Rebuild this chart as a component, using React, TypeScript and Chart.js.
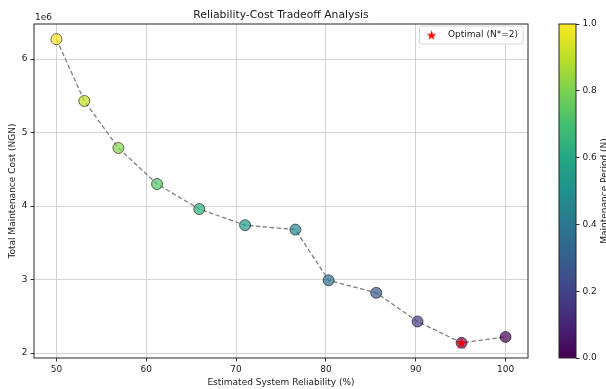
import React, { useEffect, useRef } from "react";
import { Chart, registerables } from "chart.js";

Chart.register(...registerables);

// ---------------- data ----------------
const reliability = [50.0, 53.1, 56.9, 61.2, 65.9, 71.0, 76.6, 80.3, 85.6, 90.2, 95.1, 100.0];
const totalCost = [6270000, 5430000, 4790000, 4300000, 3960000, 3740000, 3680000, 2990000, 2820000, 2430000, 2140000, 2220000];
const periodN = [12, 11, 10, 9, 8, 7, 6, 5, 4, 3, 2, 1];
const optimalN = 2;
const xTicks = [50, 60, 70, 80, 90, 100];
const yTicks = [2, 3, 4, 5, 6]; // ×1e6
const colorbarTicks = [0, 0.2, 0.4, 0.6, 0.8, 1.0];

const TITLE = "Reliability-Cost Tradeoff Analysis";
const X_LABEL = "Estimated System Reliability (%)";
const Y_LABEL = "Total Maintenance Cost (NGN)";
const CB_LABEL = "Maintenance Period (N)";
const LEGEND_LABEL = `Optimal (N*=${optimalN})`;

// ---------------- style helpers ----------------
const FAMILY = '"DejaVu Sans", "Liberation Sans", sans-serif';
const TEXT = "#1a1a1a";
const FS = 9;
const VIRIDIS = ["#440154", "#482475", "#414487", "#355f8d", "#2a788e", "#21918c", "#22a884", "#44bf70", "#7ad151", "#bddf26", "#fde725"];

function hexToRgb(h: string) {
  const n = parseInt(h.slice(1), 16);
  return [(n >> 16) & 255, (n >> 8) & 255, n & 255];
}
function viridis(t: number, alpha: number) {
  const tt = Math.max(0, Math.min(1, t));
  const p = tt * 10;
  const i = Math.min(9, Math.floor(p));
  const f = p - i;
  const a = hexToRgb(VIRIDIS[i]);
  const b = hexToRgb(VIRIDIS[i + 1]);
  const c = a.map((v, k) => Math.round(v + (b[k] - v) * f));
  return `rgba(${c[0]},${c[1]},${c[2]},${alpha})`;
}

function makeStar(R: number, color: string) {
  const size = Math.ceil(R * 2 + 2);
  const c = document.createElement("canvas");
  c.width = size;
  c.height = size;
  const ctx = c.getContext("2d")!;
  const cx = size / 2;
  const cy = size / 2 + R * 0.1;
  const r = R * 0.382;
  ctx.beginPath();
  for (let k = 0; k < 10; k++) {
    const ang = -Math.PI / 2 + (k * Math.PI) / 5;
    const rad = k % 2 === 0 ? R : r;
    const x = cx + rad * Math.cos(ang);
    const y = cy + rad * Math.sin(ang);
    if (k === 0) ctx.moveTo(x, y);
    else ctx.lineTo(x, y);
  }
  ctx.closePath();
  ctx.fillStyle = color;
  ctx.fill();
  return c;
}

export default function App() {
  const mainRef = useRef<HTMLCanvasElement>(null);
  const cbRef = useRef<HTMLCanvasElement>(null);

  useEffect(() => {
    const pts = reliability.map((x, i) => ({ x, y: totalCost[i] }));
    const optIdx = periodN.indexOf(optimalN);
    const nMin = Math.min(...periodN);
    const nMax = Math.max(...periodN);
    const colors = periodN.map((n) => viridis((n - nMin) / (nMax - nMin), 0.7));

    const xR = Math.max(...reliability) - Math.min(...reliability);
    const xMin = Math.min(...reliability) - 0.05 * xR;
    const xMax = Math.max(...reliability) + 0.05 * xR;
    const yR = Math.max(...totalCost) - Math.min(...totalCost);
    const yMin = Math.min(...totalCost) - 0.05 * yR;
    const yMax = Math.max(...totalCost) + 0.05 * yR;

    const starBig = makeStar(6.2, "#ff0000");
    const starLegend = makeStar(5.2, "#ff0000");

    const decor = {
      id: "decor",
      beforeDatasetsDraw(chart: any) {
        const { ctx, chartArea: a } = chart;
        ctx.save();
        ctx.strokeStyle = "#262626";
        ctx.lineWidth = 1;
        ctx.strokeRect(a.left, a.top, a.right - a.left, a.bottom - a.top);
        ctx.restore();
      },
      afterDraw(chart: any) {
        const { ctx, chartArea: a } = chart;
        ctx.save();
        // title
        ctx.fillStyle = TEXT;
        ctx.font = `10.8px ${FAMILY}`;
        ctx.textAlign = "center";
        ctx.textBaseline = "alphabetic";
        ctx.fillText(TITLE, (a.left + a.right) / 2, a.top - 5.6);
        // offset text
        ctx.font = `${FS}px ${FAMILY}`;
        ctx.textAlign = "left";
        ctx.fillText("1e6", a.left + 1, a.top - 4);
        // legend
        const tw = ctx.measureText(LEGEND_LABEL).width;
        const boxR = a.right - 5;
        const boxT = a.top + 2;
        const boxH = 18;
        const textL = boxR - 5 - tw;
        const starX = textL - 16.5;
        const boxL = starX - 12;
        ctx.beginPath();
        const rr = 2;
        ctx.moveTo(boxL + rr, boxT);
        ctx.lineTo(boxR - rr, boxT);
        ctx.quadraticCurveTo(boxR, boxT, boxR, boxT + rr);
        ctx.lineTo(boxR, boxT + boxH - rr);
        ctx.quadraticCurveTo(boxR, boxT + boxH, boxR - rr, boxT + boxH);
        ctx.lineTo(boxL + rr, boxT + boxH);
        ctx.quadraticCurveTo(boxL, boxT + boxH, boxL, boxT + boxH - rr);
        ctx.lineTo(boxL, boxT + rr);
        ctx.quadraticCurveTo(boxL, boxT, boxL + rr, boxT);
        ctx.closePath();
        ctx.fillStyle = "rgba(255,255,255,0.8)";
        ctx.fill();
        ctx.strokeStyle = "#d6d6d6";
        ctx.lineWidth = 1;
        ctx.stroke();
        const cy = boxT + boxH / 2;
        ctx.drawImage(starLegend, starX - starLegend.width / 2, cy - starLegend.height / 2);
        ctx.fillStyle = TEXT;
        ctx.textBaseline = "middle";
        ctx.fillText(LEGEND_LABEL, textL, cy);
        ctx.restore();
      },
    };

    const main = new Chart(mainRef.current!, {
      type: "scatter",
      data: {
        datasets: [
          {
            label: LEGEND_LABEL,
            data: [pts[optIdx]],
            pointStyle: starBig as any,
            pointRadius: 6,
            order: 0,
          },
          {
            label: "points",
            data: pts,
            backgroundColor: colors,
            borderColor: "rgba(0,0,0,0.7)",
            borderWidth: 0.8,
            pointRadius: 5.5,
            order: 1,
          },
          {
            label: "line",
            data: pts,
            showLine: true,
            borderColor: "rgba(120,120,120,0.95)",
            borderWidth: 1.3,
            borderDash: [4.5, 2.5],
            pointRadius: 0,
            order: 2,
          } as any,
        ],
      },
      options: {
        responsive: false,
        animation: false,
        devicePixelRatio: 1,
        layout: { padding: { left: 0, top: 24, right: 78, bottom: 0 } },
        plugins: { legend: { display: false }, tooltip: { enabled: false }, title: { display: false } },
        scales: {
          x: {
            type: "linear",
            min: xMin,
            max: xMax,
            afterFit: (s: any) => {
              s.height = 31;
            },
            afterBuildTicks: (s: any) => {
              s.ticks = xTicks.map((v) => ({ value: v }));
            },
            ticks: {
              color: TEXT,
              font: { size: FS, family: FAMILY },
              padding: 3,
              maxRotation: 0,
              autoSkip: false,
              callback: (v: any) => String(v),
            },
            grid: { color: "#d4d4d4", lineWidth: 1, tickLength: 3.5, tickColor: "#333", drawTicks: true },
            border: { display: false },
            title: {
              display: true,
              text: X_LABEL,
              color: TEXT,
              font: { size: FS, family: FAMILY },
              padding: { top: 0, bottom: 1 },
            },
          },
          y: {
            type: "linear",
            min: yMin,
            max: yMax,
            afterFit: (s: any) => {
              s.width = 34;
            },
            afterBuildTicks: (s: any) => {
              s.ticks = yTicks.map((v) => ({ value: v * 1e6 }));
            },
            ticks: {
              color: TEXT,
              font: { size: FS, family: FAMILY },
              padding: 3,
              autoSkip: false,
              callback: (v: any) => String(Math.round(v / 1e6)),
            },
            grid: { color: "#d4d4d4", lineWidth: 1, tickLength: 3.5, tickColor: "#333", drawTicks: true },
            border: { display: false },
            title: {
              display: true,
              text: Y_LABEL,
              color: TEXT,
              font: { size: FS, family: FAMILY },
              padding: { top: 7, bottom: 0 },
            },
          },
        },
      },
      plugins: [decor],
    } as any);

    const cbPlugin = {
      id: "colorbar",
      beforeDraw(chart: any) {
        const { ctx, chartArea: a } = chart;
        ctx.save();
        const g = ctx.createLinearGradient(0, a.bottom, 0, a.top);
        VIRIDIS.forEach((c, i) => g.addColorStop(i / (VIRIDIS.length - 1), c));
        ctx.fillStyle = g;
        ctx.fillRect(a.left, a.top, a.right - a.left, a.bottom - a.top);
        ctx.restore();
      },
      afterDraw(chart: any) {
        const { ctx, chartArea: a } = chart;
        ctx.save();
        ctx.strokeStyle = "#262626";
        ctx.lineWidth = 1;
        ctx.strokeRect(a.left, a.top, a.right - a.left, a.bottom - a.top);
        ctx.translate(604.5, (a.top + a.bottom) / 2);
        ctx.rotate(-Math.PI / 2);
        ctx.fillStyle = TEXT;
        ctx.font = `${FS}px ${FAMILY}`;
        ctx.textAlign = "center";
        ctx.textBaseline = "middle";
        ctx.fillText(CB_LABEL, 0, 0);
        ctx.restore();
      },
    };

    const cb = new Chart(cbRef.current!, {
      type: "scatter",
      data: { datasets: [] },
      options: {
        responsive: false,
        animation: false,
        devicePixelRatio: 1,
        layout: { padding: { left: 559, top: 24, right: 0, bottom: 31 } },
        plugins: { legend: { display: false }, tooltip: { enabled: false } },
        scales: {
          x: { type: "linear", min: 0, max: 1, display: false },
          y: {
            type: "linear",
            position: "right",
            min: 0,
            max: 1,
            afterFit: (s: any) => {
              s.width = 30;
            },
            afterBuildTicks: (s: any) => {
              s.ticks = colorbarTicks.map((v) => ({ value: v }));
            },
            ticks: {
              color: TEXT,
              font: { size: FS, family: FAMILY },
              padding: 3,
              autoSkip: false,
              callback: (v: any) => Number(v).toFixed(1),
            },
            grid: { drawOnChartArea: false, drawTicks: true, tickLength: 3.5, tickColor: "#333", color: "#333" },
            border: { display: false },
          },
        },
      },
      plugins: [cbPlugin],
    } as any);

    return () => {
      main.destroy();
      cb.destroy();
    };
  }, []);

  return (
    <div style={{ position: "fixed", left: 0, top: 0, width: 606, height: 389, background: "#fff" }}>
      <canvas ref={mainRef} width={606} height={389} style={{ position: "absolute", left: 0, top: 0 }} />
      <canvas ref={cbRef} width={606} height={389} style={{ position: "absolute", left: 0, top: 0 }} />
    </div>
  );
}
